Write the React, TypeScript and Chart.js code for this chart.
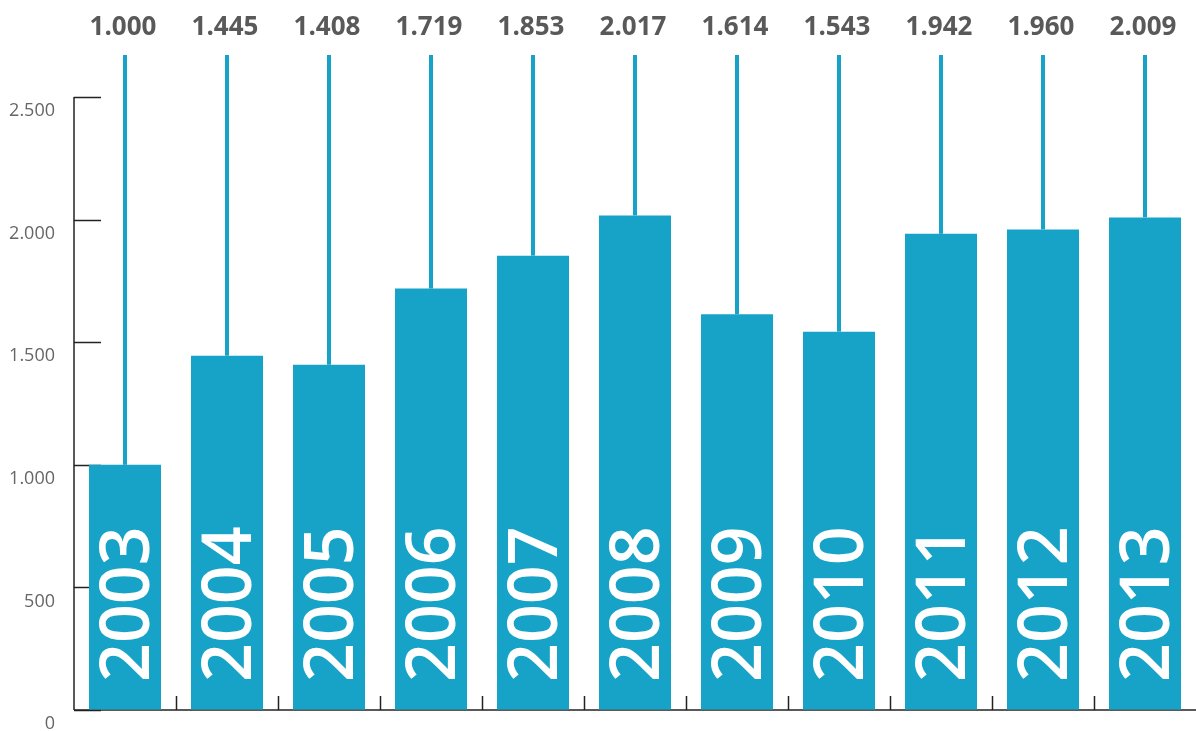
import React, { useEffect, useRef } from "react";
import { Chart, registerables } from "chart.js";

Chart.register(...registerables);

// Index values per year
const years: string[] = ["2003", "2004", "2005", "2006", "2007", "2008", "2009", "2010", "2011", "2012", "2013"];
const values: number[] = [1000, 1445, 1408, 1719, 1853, 2017, 1614, 1543, 1942, 1960, 2009];
const yTicks: number[] = [0, 500, 1000, 1500, 2000, 2500];

const BAR_COLOR = "#17a3c7";
const AXIS_COLOR = "#222222";
const TEXT_COLOR = "#595959";
const FONT = "'Open Sans', 'Noto Sans', sans-serif";

const fmt = (v: number) => v.toLocaleString("de-DE");

const decorations = {
  id: "decorations",
  beforeDatasetsDraw(chart: any) {
    const { ctx, chartArea, scales } = chart;
    const x = scales.x;
    const y = scales.y;
    const y0 = y.getPixelForValue(0);
    const yTop = y.getPixelForValue(yTicks[yTicks.length - 1]);
    ctx.save();
    ctx.strokeStyle = AXIS_COLOR;
    ctx.lineWidth = 1.5;
    // vertical axis line
    ctx.beginPath();
    ctx.moveTo(chartArea.left, yTop);
    ctx.lineTo(chartArea.left, y0);
    ctx.stroke();
    // short inward ticks on the value axis
    yTicks.forEach((t) => {
      const py = Math.round(y.getPixelForValue(t)) + 0.5;
      ctx.beginPath();
      ctx.moveTo(chartArea.left, py);
      ctx.lineTo(chartArea.left + 27, py);
      ctx.stroke();
    });
    // baseline
    ctx.beginPath();
    ctx.moveTo(chartArea.left, y0);
    ctx.lineTo(chartArea.right, y0);
    ctx.stroke();
    // category boundary ticks
    for (let i = 0; i < years.length - 1; i++) {
      const bx = Math.round((x.getPixelForValue(i) + x.getPixelForValue(i + 1)) / 2) + 0.5;
      ctx.beginPath();
      ctx.moveTo(bx, y0);
      ctx.lineTo(bx, y0 - 14);
      ctx.stroke();
    }
    ctx.restore();
  },
  afterDatasetsDraw(chart: any) {
    const { ctx, chartArea, scales } = chart;
    const x = scales.x;
    const y = scales.y;
    const y0 = y.getPixelForValue(0);
    const lineTop = chartArea.top - 42;
    ctx.save();
    values.forEach((v, i) => {
      const cx = x.getPixelForValue(i);
      const top = y.getPixelForValue(v);
      // stem from bar top upward
      ctx.fillStyle = BAR_COLOR;
      ctx.fillRect(cx - 2, lineTop, 4, top - lineTop);
      // value label
      ctx.fillStyle = TEXT_COLOR;
      ctx.font = `bold 26px ${FONT}`;
      ctx.textAlign = "center";
      ctx.textBaseline = "middle";
      ctx.fillText(fmt(v), cx - 2, chartArea.top - 69);
      // year label inside the bar
      const fs = 68;
      ctx.save();
      ctx.translate(cx + fs * 0.357, y0 - 28);
      ctx.rotate(-Math.PI / 2);
      ctx.fillStyle = "#ffffff";
      ctx.font = `600 ${fs}px ${FONT}`;
      ctx.textAlign = "left";
      ctx.textBaseline = "alphabetic";
      ctx.fillText(years[i], 0, 0);
      ctx.restore();
    });
    ctx.restore();
  },
};

export default function App() {
  const ref = useRef<HTMLCanvasElement | null>(null);

  useEffect(() => {
    if (!ref.current) return;
    const chart = new Chart(ref.current, {
      type: "bar",
      data: {
        labels: years,
        datasets: [
          {
            data: values,
            backgroundColor: BAR_COLOR,
            borderWidth: 0,
            categoryPercentage: 1,
            barPercentage: 0.706,
          },
        ],
      },
      options: {
        responsive: false,
        animation: false,
        devicePixelRatio: 1,
        layout: { padding: { top: 97, bottom: 21, left: 0, right: 0 } },
        plugins: {
          legend: { display: false },
          tooltip: { enabled: false },
        },
        scales: {
          x: {
            display: false,
            offset: true,
          },
          y: {
            min: 0,
            max: 2500,
            afterFit(scale: any) {
              scale.width = 74;
            },
            afterBuildTicks(scale: any) {
              scale.ticks = yTicks.map((v) => ({ value: v }));
            },
            border: { display: false },
            grid: {
              display: true,
              drawOnChartArea: false,
              drawTicks: true,
              tickLength: 19,
              color: "rgba(0,0,0,0)",
            },
            ticks: {
              padding: 0,
              labelOffset: 14,
              color: "#666666",
              font: { family: FONT, size: 18 },
              callback: (v: any) => fmt(Number(v)),
            },
          },
        },
      },
      plugins: [decorations],
    });
    return () => chart.destroy();
  }, []);

  return (
    <div style={{ position: "fixed", left: 0, top: 0, width: 1196, height: 731, background: "#fff" }}>
      <canvas ref={ref} width={1196} height={731} />
    </div>
  );
}
